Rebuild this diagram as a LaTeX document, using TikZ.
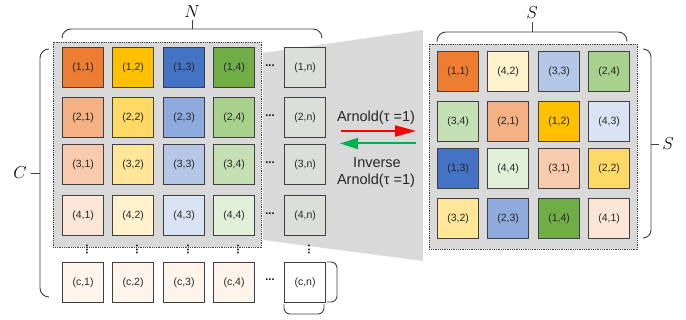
\documentclass[tikz,border=0pt]{standalone}
\usepackage{fontspec}
\setmainfont{Liberation Sans}
\usetikzlibrary{arrows.meta}

% palette
\definecolor{panelgray}{HTML}{D9D9D9}
\definecolor{cellline}{HTML}{3F3F3F}
\definecolor{labeltxt}{HTML}{262626}
\definecolor{bracecol}{HTML}{404040}
\definecolor{oA}{HTML}{ED7D31}\definecolor{oB}{HTML}{F4B183}\definecolor{oC}{HTML}{F8CBAD}\definecolor{oD}{HTML}{FBE5D6}
\definecolor{yA}{HTML}{FFC000}\definecolor{yB}{HTML}{FFD966}\definecolor{yC}{HTML}{FFE699}\definecolor{yD}{HTML}{FFF2CC}
\definecolor{bA}{HTML}{4472C4}\definecolor{bB}{HTML}{8FAADC}\definecolor{bC}{HTML}{B4C7E7}\definecolor{bD}{HTML}{DAE3F3}
\definecolor{gA}{HTML}{70AD47}\definecolor{gB}{HTML}{A9D18E}\definecolor{gC}{HTML}{C5E0B4}\definecolor{gD}{HTML}{E2F0D9}
\definecolor{ncol}{HTML}{DCDFD9}
\definecolor{crow}{HTML}{FEF4EC}
\definecolor{fwdred}{HTML}{FF0000}
\definecolor{backgreen}{HTML}{00B050}

\tikzset{
  cell/.style={draw=cellline, line width=1.1pt, minimum width=41pt, minimum height=40pt,
    inner sep=0pt, anchor=north west, font=\fontsize{10.5}{12}\selectfont, text=labeltxt},
  panel/.style={fill=panelgray, draw=cellline, line width=0.6pt, dash pattern=on 0.9pt off 0.9pt},
  bracepath/.style={draw=bracecol, line width=0.9pt},
  hdots/.style={font=\bfseries\fontsize{11}{11}\selectfont, inner sep=0pt, text=black},
  vdots/.style={hdots, rotate=90},
  biglabel/.style={font=\fontsize{16}{16}\selectfont, inner sep=0pt},
  arrtxt/.style={font=\fontsize{14.5}{15}\selectfont, text=labeltxt, inner sep=0pt},
}

\begin{document}
\begin{tikzpicture}[x=1pt, y=-1pt]
\useasboundingbox (0,0) rectangle (686,320);

% projection wedge between the two panels
\fill[panelgray] (263,53) -- (423,30) -- (423,261) -- (263,240) -- cycle;

% ---- source image C x N ----
\path[panel] (53,42) rectangle (261,247);

\def\colsL{62,112,163,213}
\def\rowsL{47,97,144,195}
\foreach \x [count=\j] in \colsL {
  \foreach \y [count=\i] in \rowsL {
    \pgfmathsetmacro\shade{{"A","B","C","D"}[\i-1]}
    \pgfmathsetmacro\hue{{"o","y","b","g"}[\j-1]}
    \node[cell, fill=\hue\shade] (L\i\j) at (\x,\y) {(\i,\j)};
  }
}
\foreach \y [count=\i] in \rowsL {
  \node[cell, fill=ncol] (L\i n) at (284,\y) {(\i,n)};
  \node[hdots] (hd\i) at (270,\y+19) {...};
}
\foreach \x [count=\j] in \colsL {
  \node[cell, fill=crow] (Lc\j) at (\x,262) {(c,\j)};
  \node[vdots] (vd\j) at (\x+25,249.5) {...};
}
\node[cell, fill=white] (Lcn) at (284,262) {(c,n)};
\node[vdots] (vdn) at (309,249.5) {...};
\node[hdots] (hdc) at (270,280) {...};

% braces of the source image
\draw[bracepath, rounded corners=9pt] (62,38) |- (192,29) -| (322,38);
\draw[bracepath] (192,29) -- (192,20);
\node[biglabel] (labN) at (192,12) {$N$};
\draw[bracepath, rounded corners=9pt] (49,49) -- (40,49) -- (40,297) -- (49,297);
\draw[bracepath] (40,173) -- (31,173);
\node[biglabel] (labC) at (20,173) {$C$};
\draw[bracepath, rounded corners=6pt] (327,262) -- (337,262) -- (337,302) -- (327,302);
\draw[bracepath, rounded corners=6pt] (284,304) -- (284,314) -- (324,314) -- (324,304);

% ---- scrambled S x S block ----
\path[panel] (429,44) rectangle (637,249);
\def\colsR{437,487,538,588}
\def\rowsR{51,101,148,198}
\foreach \lab/\fillc [count=\k from 0] in {
  (1,1)/oA, (4,2)/yD, (3,3)/bC, (2,4)/gB,
  (3,4)/gC, (2,1)/oB, (1,2)/yA, (4,3)/bD,
  (1,3)/bA, (4,4)/gD, (3,1)/oC, (2,2)/yB,
  (3,2)/yC, (2,3)/bB, (1,4)/gA, (4,1)/oD} {
  \pgfmathtruncatemacro\r{int(\k/4)}
  \pgfmathtruncatemacro\c{mod(\k,4)}
  \pgfmathsetmacro\xx{{437,487,538,588}[\c]}
  \pgfmathsetmacro\yy{{51,101,148,198}[\r]}
  \node[cell, fill=\fillc] (R\k) at (\xx,\yy) {\lab};
}

% braces of the scrambled block
\draw[bracepath, rounded corners=9pt] (437,42) |- (532,32) -| (627,42);
\draw[bracepath] (532,32) -- (532,22);
\node[biglabel] (labS1) at (532,13) {$S$};
\draw[bracepath, rounded corners=8pt] (643,49) -- (651,49) -- (651,238) -- (643,238);
\draw[bracepath] (651,144) -- (659,144);
\node[biglabel] (labS2) at (668,144) {$S$};

% ---- forward / inverse transform ----
\coordinate (fwdA) at (341,131);
\coordinate (fwdB) at (416,131);
\coordinate (bwdA) at (416,143.5);
\coordinate (bwdB) at (340,143.5);
\draw[fwdred, line width=2pt, -{Triangle[length=21pt, width=11pt]}] (fwdA) -- (fwdB);
\draw[backgreen, line width=2pt, -{Triangle[length=18pt, width=11pt]}] (bwdA) -- (bwdB);
\node[arrtxt] (tfwd) at (376,118) {Arnold(τ =1)};
\node[arrtxt] (tinv1) at (377,163) {Inverse};
\node[arrtxt] (tinv2) at (376,181) {Arnold(τ =1)};
\end{tikzpicture}
\end{document}
